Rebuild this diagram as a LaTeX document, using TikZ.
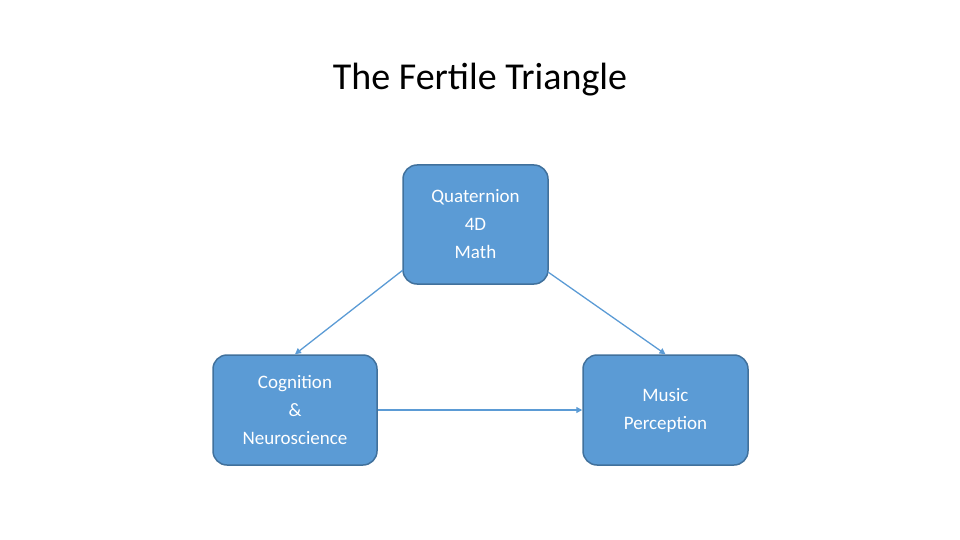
\documentclass[tikz,border=0pt]{standalone}
\usepackage{fontspec}
\setmainfont{Carlito}
\usetikzlibrary{arrows.meta}
\definecolor{boxfill}{HTML}{5B9BD5}
\definecolor{boxline}{HTML}{41719C}
\begin{document}
\begin{tikzpicture}[x=1pt,y=-1pt,
  box/.style={draw=boxline,line width=1.5pt,fill=boxfill,rounded corners=14pt,text=white,align=center,font=\fontsize{19}{28}\selectfont,inner sep=0pt},
  conn/.style={draw=boxfill,line width=1.3pt,-{Triangle[length=6pt,width=6pt]}}]
\useasboundingbox (0,0) rectangle (960,540);
\node[font=\fontsize{38}{44}\selectfont] (title) at (480,80) {The Fertile Triangle};
\node[box,minimum width=145pt,minimum height=119pt] (q) at (475.5,224.5) {Quaternion\\4D\\Math};
\node[box,minimum width=164pt,minimum height=110pt] (c) at (295,410) {Cognition\\\&\\Neuroscience};
\node[box,minimum width=165pt,minimum height=110pt] (m) at (665.5,410) {Music\\Perception};
\coordinate (q1) at (403,270);
\coordinate (q2) at (548,272);
\draw[conn] (q1) -- (c.north);
\draw[conn] (q2) -- (m.north);
\draw[conn] (c.east) -- (m.west);
\end{tikzpicture}
\end{document}
